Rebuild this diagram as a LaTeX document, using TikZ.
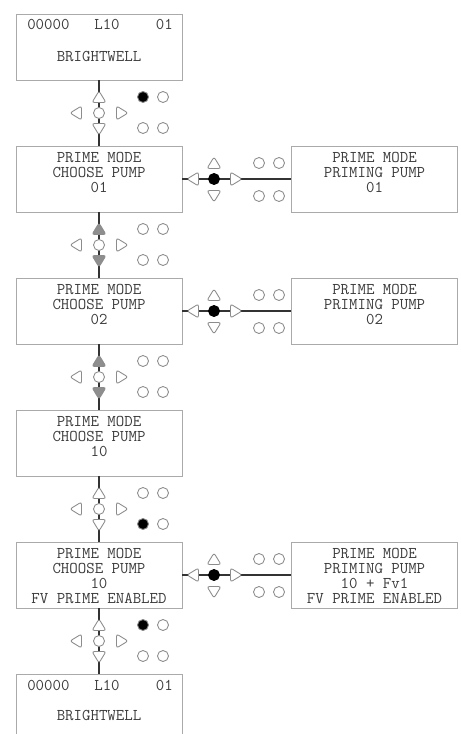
\documentclass[tikz,border=0pt]{standalone}
\definecolor{boxgray}{HTML}{AAAAAA}
\definecolor{txtgray}{HTML}{3C3C3C}
\definecolor{keygray}{HTML}{8C8C8C}
\definecolor{keyfill}{HTML}{8E8E8E}
\definecolor{linkgray}{HTML}{333333}
\tikzset{
  tri/.pic={\draw[key,fill=#1] (0,-6)--(7,5.5)--(-7,5.5)--cycle;}
}

\begin{document}
\begin{tikzpicture}[x=.03cm,y=-.03cm,line width=.5pt,
  font=\ttfamily\fontsize{14}{12.8}\selectfont,
  screen/.style={draw=boxgray,fill=white,minimum width=4.98cm,minimum height=1.98cm,inner sep=0pt},
  lcd/.style={text=txtgray,align=center,anchor=north,inner sep=0pt},
  key/.style={draw=keygray,line width=.75pt,rounded corners=2pt},
  link/.style={draw=linkgray,line width=1pt}]
\useasboundingbox (0,0) rectangle (461,734);
% screens on the left
\node[screen] (s1) at (99,47) {};
\node[screen] (s2) at (99,179) {};
\node[screen] (s3) at (99,311) {};
\node[screen] (s4) at (99,443) {};
\node[screen] (s5) at (99,575) {};
\node[screen] (s6) at (99,707) {};
% screens on the right
\node[screen] (p2) at (374.5,179) {};
\node[screen] (p3) at (374.5,311) {};
\node[screen] (p5) at (374.5,575) {};
% texts
\node[lcd,anchor=base west] (t1a) at (27,30) {00000};
\node[lcd,anchor=base] (t1b) at (107,30) {L10};
\node[lcd,anchor=base east] (t1c) at (173,30) {01};
\node[lcd,anchor=base] (t1d) at (99,62) {BRIGHTWELL};
\node[lcd] (t2) at (99,152) {PRIME MODE\\CHOOSE PUMP\\01};
\node[lcd] (t3) at (99,284) {PRIME MODE\\CHOOSE PUMP\\02};
\node[lcd] (t4) at (99,416) {PRIME MODE\\CHOOSE PUMP\\10};
\node[lcd] (t5) at (99,548) {PRIME MODE\\CHOOSE PUMP\\10\\FV PRIME ENABLED};
\node[lcd,anchor=base west] (t6a) at (27,690) {00000};
\node[lcd,anchor=base] (t6b) at (107,690) {L10};
\node[lcd,anchor=base east] (t6c) at (173,690) {01};
\node[lcd,anchor=base] (t6d) at (99,720) {BRIGHTWELL};
\node[lcd] (r2) at (374.5,152) {PRIME MODE\\PRIMING PUMP\\01};
\node[lcd] (r3) at (374.5,284) {PRIME MODE\\PRIMING PUMP\\02};
\node[lcd] (r5) at (374.5,548) {PRIME MODE\\PRIMING PUMP\\10 + Fv1\\FV PRIME ENABLED};
% connectors
\draw[link] (s1) -- (s2);
\draw[link] (s2) -- (s3);
\draw[link] (s3) -- (s4);
\draw[link] (s4) -- (s5);
\draw[link] (s5) -- (s6);
\draw[link] (s2) -- (p2);
\draw[link] (s3) -- (p3);
\draw[link] (s5) -- (p5);
% keypads between screens
\foreach \y/\ud/\da/\dc in {113/white/black/white,245/keyfill/white/white,
    377/keyfill/white/white,509/white/white/black,641/white/black/white}{
  \pic at (99,\y-16) {tri=\ud};
  \pic[rotate=180] at (99,\y+16) {tri=\ud};
  \pic[rotate=90] at (76,\y) {tri=white};
  \pic[rotate=-90] at (122,\y) {tri=white};
  \draw[key,fill=white] (99,\y) circle (5.5);
  \draw[key,fill=\da] (143,\y-16) circle (5.5);
  \draw[key,fill=white] (163,\y-16) circle (5.5);
  \draw[key,fill=\dc] (143,\y+15) circle (5.5);
  \draw[key,fill=white] (163,\y+15) circle (5.5);
}
% keypads beside screens
\foreach \y in {179,311,575}{
  \pic[rotate=90] at (193,\y) {tri=white};
  \pic[rotate=-90] at (236,\y) {tri=white};
  \pic at (214,\y-16) {tri=white};
  \pic[rotate=180] at (214,\y+17) {tri=white};
  \draw[key,draw=black,fill=black] (214,\y) circle (5.5);
  \foreach \x in {259,279}{
    \draw[key,fill=white] (\x,\y-16) circle (5.5);
    \draw[key,fill=white] (\x,\y+17) circle (5.5);
  }
}
\end{tikzpicture}
\end{document}
